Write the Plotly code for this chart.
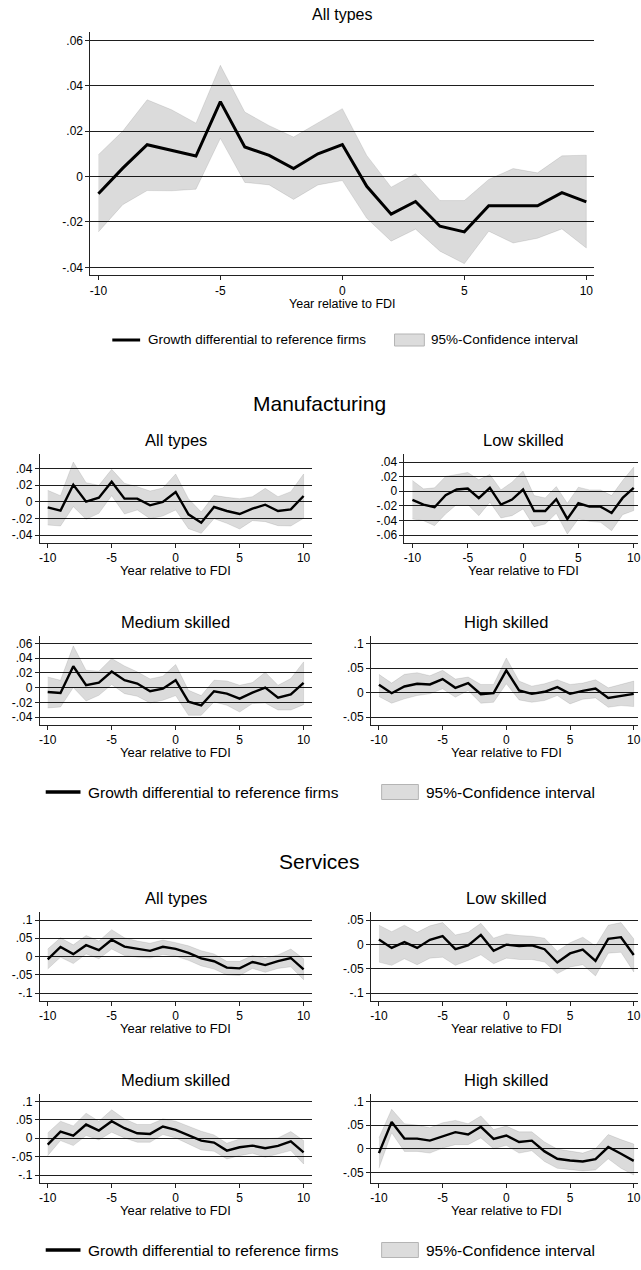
import plotly.graph_objects as go

W, H = 641, 1270
FONT = "Liberation Sans, Arial, sans-serif"

# ------------------------------------------------------------------ data
years = list(range(-10, 11))
x_tick_vals = [-10, -5, 0, 5, 10]
x_tick_text = ["-10", "-5", "0", "5", "10"]

# Top: all firms, all types
all_coef = [-0.0076, 0.0037, 0.0140, 0.0115, 0.0090, 0.0330, 0.0130, 0.0093, 0.0035, 0.0100, 0.0141,
            -0.0043, -0.0166, -0.0110, -0.0219, -0.0244, -0.0129, -0.0129, -0.0129, -0.0071, -0.0112]
all_upper = [0.0096, 0.0200, 0.0338, 0.0294, 0.0235, 0.0490, 0.0284, 0.0224, 0.0174, 0.0235, 0.0299,
             0.0093, -0.0047, 0.0012, -0.0106, -0.0106, -0.0013, 0.0035, 0.0016, 0.0091, 0.0094]
all_lower = [-0.0244, -0.0124, -0.0062, -0.0063, -0.0056, 0.0168, -0.0026, -0.0037, -0.0101, -0.0037, -0.0018,
             -0.0184, -0.0285, -0.0232, -0.0329, -0.0384, -0.0241, -0.0293, -0.0272, -0.0231, -0.0315]
all_y_ticks = [0.06, 0.04, 0.02, 0, -0.02, -0.04]
all_y_text = [".06", ".04", ".02", "0", "-.02", "-.04"]

# Manufacturing
man_all_coef = [-0.0068, -0.0108, 0.0204, 0.0000, 0.0048, 0.0240, 0.0036, 0.0036, -0.0044, -0.0004, 0.0116,
                -0.0152, -0.0252, -0.0064, -0.0112, -0.0148, -0.0084, -0.0036, -0.0112, -0.0092, 0.0068]
man_all_upper = [0.0136, 0.0072, 0.0476, 0.0228, 0.0196, 0.0388, 0.0220, 0.0180, 0.0128, 0.0164, 0.0332,
                 0.0036, -0.0124, 0.0076, 0.0052, 0.0036, 0.0060, 0.0160, 0.0060, 0.0120, 0.0332]
man_all_lower = [-0.0280, -0.0292, -0.0060, -0.0212, -0.0140, 0.0072, -0.0148, -0.0100, -0.0204, -0.0172, -0.0100,
                 -0.0324, -0.0380, -0.0204, -0.0260, -0.0328, -0.0228, -0.0240, -0.0288, -0.0292, -0.0200]
man_all_y_ticks = [0.04, 0.02, 0, -0.02, -0.04]
man_all_y_text = [".04", ".02", "0", "-.02", "-.04"]

man_low_coef = [-0.0119, -0.0183, -0.0220, -0.0055, 0.0023, 0.0037, -0.0096, 0.0046, -0.0183, -0.0115, 0.0023,
                -0.0271, -0.0271, -0.0110, -0.0380, -0.0165, -0.0211, -0.0211, -0.0298, -0.0092, 0.0046]
man_low_upper = [0.0147, 0.0032, 0.0046, 0.0202, 0.0229, 0.0257, 0.0156, 0.0229, 0.0018, 0.0124, 0.0275,
                 -0.0060, -0.0092, 0.0064, -0.0165, 0.0055, 0.0018, 0.0018, -0.0060, 0.0147, 0.0330]
man_low_lower = [-0.0380, -0.0404, -0.0472, -0.0312, -0.0183, -0.0183, -0.0335, -0.0151, -0.0367, -0.0335, -0.0243,
                 -0.0486, -0.0450, -0.0303, -0.0587, -0.0380, -0.0413, -0.0427, -0.0541, -0.0321, -0.0266]
man_low_y_ticks = [0.04, 0.02, 0, -0.02, -0.04, -0.06]
man_low_y_text = [".04", ".02", "0", "-.02", "-.04", "-.06"]

man_med_coef = [-0.0059, -0.0073, 0.0291, 0.0032, 0.0068, 0.0218, 0.0100, 0.0055, -0.0050, -0.0014, 0.0100,
                -0.0191, -0.0241, -0.0050, -0.0082, -0.0150, -0.0068, 0.0000, -0.0136, -0.0091, 0.0064]
man_med_upper = [0.0145, 0.0100, 0.0568, 0.0236, 0.0223, 0.0395, 0.0295, 0.0214, 0.0118, 0.0155, 0.0314,
                 -0.0036, -0.0109, 0.0100, 0.0091, 0.0032, 0.0068, 0.0209, 0.0032, 0.0123, 0.0350]
man_med_lower = [-0.0277, -0.0264, 0.0000, -0.0182, -0.0105, 0.0041, -0.0082, -0.0118, -0.0209, -0.0173, -0.0109,
                 -0.0377, -0.0377, -0.0195, -0.0241, -0.0332, -0.0218, -0.0209, -0.0305, -0.0305, -0.0232]
man_med_y_ticks = [0.06, 0.04, 0.02, 0, -0.02, -0.04]
man_med_y_text = [".06", ".04", ".02", "0", "-.02", "-.04"]

man_high_coef = [0.0158, -0.0014, 0.0123, 0.0178, 0.0164, 0.0274, 0.0096, 0.0192, -0.0034, -0.0014, 0.0452,
                 0.0041, -0.0027, 0.0014, 0.0110, -0.0027, 0.0034, 0.0082, -0.0110, -0.0062, -0.0027]
man_high_upper = [0.0370, 0.0192, 0.0370, 0.0404, 0.0342, 0.0452, 0.0274, 0.0315, 0.0164, 0.0164, 0.0705,
                  0.0233, 0.0130, 0.0178, 0.0260, 0.0164, 0.0192, 0.0260, 0.0096, 0.0164, 0.0233]
man_high_lower = [-0.0082, -0.0219, -0.0130, -0.0062, -0.0027, 0.0075, -0.0096, 0.0041, -0.0219, -0.0199, 0.0178,
                  -0.0151, -0.0199, -0.0164, -0.0062, -0.0233, -0.0137, -0.0110, -0.0301, -0.0267, -0.0288]
man_high_y_ticks = [0.1, 0.05, 0, -0.05]
man_high_y_text = [".1", ".05", "0", "-.05"]

# Services
ser_all_coef = [-0.0080, 0.0260, 0.0065, 0.0310, 0.0175, 0.0460, 0.0270, 0.0205, 0.0155, 0.0265, 0.0210,
                0.0100, -0.0050, -0.0130, -0.0305, -0.0325, -0.0150, -0.0235, -0.0125, -0.0040, -0.0354]
ser_all_upper = [0.0204, 0.0513, 0.0319, 0.0575, 0.0425, 0.0735, 0.0513, 0.0425, 0.0363, 0.0451, 0.0380,
                 0.0292, 0.0159, 0.0071, -0.0133, -0.0133, 0.0027, -0.0044, 0.0044, 0.0204, -0.0062]
ser_all_lower = [-0.0345, -0.0018, -0.0195, 0.0071, -0.0062, 0.0204, 0.0027, -0.0018, -0.0044, 0.0053, 0.0009,
                 -0.0106, -0.0257, -0.0345, -0.0504, -0.0522, -0.0327, -0.0434, -0.0327, -0.0283, -0.0637]
ser_all_y_ticks = [0.1, 0.05, 0, -0.05, -0.1]
ser_all_y_text = [".1", ".05", "0", "-.05", "-.1"]

ser_low_coef = [0.0100, -0.0073, 0.0047, -0.0073, 0.0093, 0.0167, -0.0100, -0.0020, 0.0193, -0.0133, -0.0007,
                -0.0033, -0.0020, -0.0100, -0.0373, -0.0187, -0.0107, -0.0340, 0.0113, 0.0147, -0.0220]
ser_low_upper = [0.0393, 0.0260, 0.0393, 0.0247, 0.0380, 0.0447, 0.0193, 0.0247, 0.0433, 0.0127, 0.0213,
                 0.0180, 0.0167, 0.0127, -0.0140, 0.0033, 0.0147, -0.0033, 0.0393, 0.0447, 0.0113]
ser_low_lower = [-0.0365, -0.0432, -0.0297, -0.0419, -0.0284, -0.0264, -0.0432, -0.0331, -0.0216, -0.0399, -0.0284,
                 -0.0311, -0.0311, -0.0365, -0.0601, -0.0466, -0.0419, -0.0649, -0.0182, -0.0162, -0.0568]
ser_low_y_ticks = [0.05, 0, -0.05, -0.1]
ser_low_y_text = [".05", "0", "-.05", "-.1"]

ser_med_coef = [-0.0173, 0.0182, 0.0073, 0.0373, 0.0209, 0.0464, 0.0273, 0.0136, 0.0118, 0.0318, 0.0227,
                0.0091, -0.0064, -0.0118, -0.0336, -0.0245, -0.0200, -0.0273, -0.0209, -0.0082, -0.0382]
ser_med_upper = [0.0145, 0.0464, 0.0336, 0.0682, 0.0464, 0.0773, 0.0527, 0.0373, 0.0373, 0.0527, 0.0464,
                 0.0318, 0.0191, 0.0091, -0.0136, -0.0018, -0.0018, -0.0018, 0.0009, 0.0182, -0.0064]
ser_med_lower = [-0.0473, -0.0064, -0.0200, 0.0073, -0.0045, 0.0164, 0.0009, -0.0109, -0.0109, 0.0100, 0.0009,
                 -0.0155, -0.0318, -0.0355, -0.0564, -0.0473, -0.0409, -0.0518, -0.0427, -0.0336, -0.0700]
ser_med_y_ticks = [0.1, 0.05, 0, -0.05, -0.1]
ser_med_y_text = [".1", ".05", "0", "-.05", "-.1"]

ser_high_coef = [-0.0093, 0.0564, 0.0214, 0.0214, 0.0171, 0.0264, 0.0350, 0.0300, 0.0464, 0.0207, 0.0279,
                 0.0143, 0.0171, -0.0057, -0.0214, -0.0250, -0.0271, -0.0221, 0.0036, -0.0107, -0.0257]
ser_high_upper = [0.0229, 0.0836, 0.0529, 0.0500, 0.0443, 0.0550, 0.0600, 0.0529, 0.0693, 0.0407, 0.0479,
                  0.0357, 0.0357, 0.0143, -0.0007, -0.0057, -0.0093, 0.0000, 0.0300, 0.0193, 0.0100]
ser_high_lower = [-0.0414, 0.0336, -0.0057, -0.0057, -0.0093, 0.0014, 0.0086, 0.0086, 0.0229, 0.0000, 0.0071,
                  -0.0093, -0.0043, -0.0271, -0.0414, -0.0450, -0.0471, -0.0450, -0.0214, -0.0414, -0.0557]
ser_high_y_ticks = [0.1, 0.05, 0, -0.05]
ser_high_y_text = [".1", ".05", "0", "-.05"]

x_title = "Year relative to FDI"
legend_line_text = "Growth differential to reference firms"
legend_band_text = "95%-Confidence interval"

# ------------------------------------------------------------------ layout constants (pixels)
PAD = 8
SHIFT = 458  # services block offset relative to manufacturing block
LEFT_COL = (39, 312.5)
RIGHT_COL = (372.3, 644.7)
LOW_COL = (406, 644.7)
ROW1 = (454, 543)
ROW2 = (635.5, 725)

panels = [
    dict(title="All types", coef=all_coef, up=all_upper, lo=all_lower, yt=all_y_ticks, ytt=all_y_text,
         box=(90, 597, 32.3, 275.3), lw=3.0, tfs=16, xfs=12.5, tickfs=12, title_y=15, xt_y=304),
]


def block(off):
    return [
        dict(title="All types", box=(*LEFT_COL, ROW1[0] + off, ROW1[1] + off)),
        dict(title="Low skilled", box=(*(LOW_COL if off == 0 else RIGHT_COL), ROW1[0] + off, ROW1[1] + off)),
        dict(title="Medium skilled", box=(*LEFT_COL, ROW2[0] + off, ROW2[1] + off)),
        dict(title="High skilled", box=(*RIGHT_COL, ROW2[0] + off, ROW2[1] + off)),
    ]


man_series = [(man_all_coef, man_all_upper, man_all_lower, man_all_y_ticks, man_all_y_text),
              (man_low_coef, man_low_upper, man_low_lower, man_low_y_ticks, man_low_y_text),
              (man_med_coef, man_med_upper, man_med_lower, man_med_y_ticks, man_med_y_text),
              (man_high_coef, man_high_upper, man_high_lower, man_high_y_ticks, man_high_y_text)]
ser_series = [(ser_all_coef, ser_all_upper, ser_all_lower, ser_all_y_ticks, ser_all_y_text),
              (ser_low_coef, ser_low_upper, ser_low_lower, ser_low_y_ticks, ser_low_y_text),
              (ser_med_coef, ser_med_upper, ser_med_lower, ser_med_y_ticks, ser_med_y_text),
              (ser_high_coef, ser_high_upper, ser_high_lower, ser_high_y_ticks, ser_high_y_text)]

for off, series in ((0, man_series), (SHIFT, ser_series)):
    for spec, (c, u, l, yt, ytt) in zip(block(off), series):
        top, bot = spec["box"][2], spec["box"][3]
        spec.update(coef=c, up=u, lo=l, yt=yt, ytt=ytt, lw=2.4, tfs=16.5, xfs=13, tickfs=12,
                    title_y=top - 14, xt_y=bot + 27)
        panels.append(spec)

fig = go.Figure()
layout = dict(width=W, height=H, autosize=False, margin=dict(l=0, r=0, t=0, b=0, pad=0),
              paper_bgcolor="white", plot_bgcolor="white", showlegend=False,
              font=dict(family=FONT, color="black"))
annotations = []
shapes = []

for i, p in enumerate(panels, start=1):
    sfx = "" if i == 1 else str(i)
    left, right, top, bot = p["box"]
    ppu = (right - left - 2 * PAD) / 20.0
    x0 = -10 - PAD / ppu
    right_vis = min(right, W)
    x1 = x0 + (right_vis - left) / ppu
    ylo = min(min(p["lo"]), min(p["yt"]))
    yhi = max(max(p["up"]), max(p["yt"]))
    upu = (bot - top - 2 * PAD) / (yhi - ylo)
    y0, y1 = ylo - PAD / upu, yhi + PAD / upu

    layout["xaxis" + sfx] = dict(
        domain=[left / W, right_vis / W], range=[x0, x1], anchor="y" + sfx,
        tickmode="array", tickvals=x_tick_vals, ticktext=x_tick_text, ticklabeloverflow="allow",
        ticks="outside", ticklen=4, tickwidth=1, tickcolor="#222",
        showline=True, linecolor="#222", linewidth=1, showgrid=False, zeroline=False,
        tickfont=dict(size=p["tickfs"], family=FONT, color="black"), fixedrange=True)
    layout["yaxis" + sfx] = dict(
        domain=[1 - bot / H, 1 - top / H], range=[y0, y1], anchor="x" + sfx,
        tickmode="array", tickvals=p["yt"], ticktext=p["ytt"],
        ticks="outside", ticklen=4, tickwidth=1, tickcolor="#222",
        showline=True, linecolor="#222", linewidth=1, showgrid=True, gridcolor="#1e1e1e", gridwidth=1,
        zeroline=False, tickfont=dict(size=p["tickfs"], family=FONT, color="black"), fixedrange=True)

    fig.add_trace(go.Scatter(
        x=years + years[::-1], y=p["up"] + p["lo"][::-1], mode="lines", fill="toself",
        fillcolor="rgba(0,0,0,0.14)", line=dict(color="rgba(0,0,0,0.12)", width=0.8),
        hoverinfo="skip", xaxis="x" + sfx, yaxis="y" + sfx))
    fig.add_trace(go.Scatter(
        x=years, y=p["coef"], mode="lines", line=dict(color="black", width=p["lw"]),
        xaxis="x" + sfx, yaxis="y" + sfx))

    cx = (left + right) / 2.0 / W
    annotations.append(dict(text=p["title"], x=cx, y=1 - p["title_y"] / H, xref="paper", yref="paper",
                            xanchor="center", yanchor="middle", showarrow=False,
                            font=dict(size=p["tfs"], family=FONT, color="black")))
    annotations.append(dict(text=x_title, x=cx, y=1 - p["xt_y"] / H, xref="paper", yref="paper",
                            xanchor="center", yanchor="middle", showarrow=False,
                            font=dict(size=p["xfs"], family=FONT, color="black")))

# group titles
for txt, yy in (("Manufacturing", 404), ("Services", 404 + SHIFT)):
    annotations.append(dict(text=txt, x=320.5 / W, y=1 - yy / H, xref="paper", yref="paper",
                            xanchor="center", yanchor="middle", showarrow=False,
                            font=dict(size=21, family=FONT, color="black")))


def add_legend(y, lx0, lx1, tx1, bx0, bx1, tx2, fs, bh, lw):
    shapes.append(dict(type="line", xref="paper", yref="paper", x0=lx0 / W, x1=lx1 / W,
                       y0=1 - y / H, y1=1 - y / H, line=dict(color="black", width=lw)))
    shapes.append(dict(type="rect", xref="paper", yref="paper", x0=bx0 / W, x1=bx1 / W,
                       y0=1 - (y + bh / 2) / H, y1=1 - (y - bh / 2) / H,
                       fillcolor="#dcdcdc", line=dict(color="#b4b4b4", width=1)))
    for tx, t in ((tx1, legend_line_text), (tx2, legend_band_text)):
        annotations.append(dict(text=t, x=tx / W, y=1 - y / H, xref="paper", yref="paper",
                                xanchor="left", yanchor="middle", showarrow=False,
                                font=dict(size=fs, family=FONT, color="black")))


add_legend(340, 112, 140, 146, 396, 426, 431, 13.5, 12, 3)
add_legend(792, 45, 80, 86, 383, 420, 426, 15.5, 15, 3.5)
add_legend(792 + SHIFT, 45, 80, 86, 383, 420, 426, 15.5, 15, 3.5)

layout["annotations"] = annotations
layout["shapes"] = shapes
fig.update_layout(**layout)

fig.write_html("out.html", config={"displayModeBar": False, "staticPlot": True},
               post_script="document.body.style.margin='0';document.body.style.overflow='hidden';")
